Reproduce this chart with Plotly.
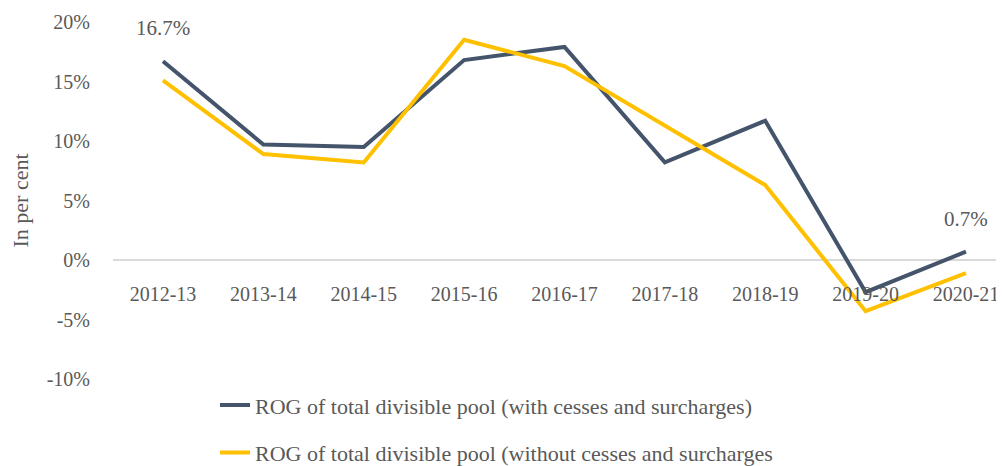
import plotly.graph_objects as go

years = ["2012-13", "2013-14", "2014-15", "2015-16", "2016-17",
         "2017-18", "2018-19", "2019-20", "2020-21"]
rog_with_cess = [16.7, 9.7, 9.5, 16.8, 17.9, 8.2, 11.7, -2.7, 0.7]
rog_without_cess = [15.1, 8.9, 8.2, 18.5, 16.3, 11.3, 6.3, -4.3, -1.1]
y_ticks = [-10, -5, 0, 5, 10, 15, 20]
label_idx = [0, 8]  # points that carry a data label

FONT = "Liberation Serif"
GREY = "#595959"

fig = go.Figure()

fig.add_trace(go.Scatter(
    x=list(range(len(years))), y=rog_with_cess,
    mode="lines",
    name="ROG of total divisible pool (with cesses and surcharges)",
    line=dict(color="#44546A", width=4),
    legendgroup="a",
))
fig.add_trace(go.Scatter(
    x=list(range(len(years))), y=rog_without_cess,
    mode="lines",
    name="ROG of total divisible pool (without cesses and surcharges",
    line=dict(color="#FFC000", width=4),
    legendgroup="b",
))

# data labels on first and last point of the dark series
for i in label_idx:
    fig.add_annotation(
        x=i, y=rog_with_cess[i], text=f"{rog_with_cess[i]:.1f}%",
        showarrow=False, yshift=33,
        font=dict(family=FONT, size=21, color=GREY),
    )

# page body has an 8px margin, so the figure is sized 8px smaller
fig.update_layout(
    width=996, height=458,
    margin=dict(l=105, r=0, t=14, b=87, autoexpand=False),
    plot_bgcolor="white", paper_bgcolor="white",
    font=dict(family=FONT, size=20, color=GREY),
    showlegend=True,
    legend=dict(
        x=0.1145, y=-0.0146, xanchor="left", yanchor="top",
        font=dict(family=FONT, size=22, color=GREY),
        tracegroupgap=16,
        bgcolor="rgba(0,0,0,0)",
    ),
    hovermode=False,
    xaxis=dict(
        tickmode="array",
        tickvals=list(range(len(years))),
        ticktext=years,
        range=[-0.498, 8.379],
        showgrid=False, showline=False, zeroline=False,
        anchor="free", position=1/3,
        ticks="", ticklabelstandoff=20,
        automargin=False,
        tickfont=dict(family=FONT, size=20, color=GREY),
    ),
    yaxis=dict(
        range=[-10, 20],
        tickvals=y_ticks,
        ticktext=[f"{v}%" for v in y_ticks],
        showgrid=False, showline=False,
        zeroline=True, zerolinecolor="#d9d9d9", zerolinewidth=2,
        ticks="", ticklabelstandoff=22,
        automargin=False,
        tickfont=dict(family=FONT, size=20, color=GREY),
        title=dict(text="In per cent", font=dict(family=FONT, size=22, color=GREY), standoff=12),
    ),
)

fig.write_html("out.html")
